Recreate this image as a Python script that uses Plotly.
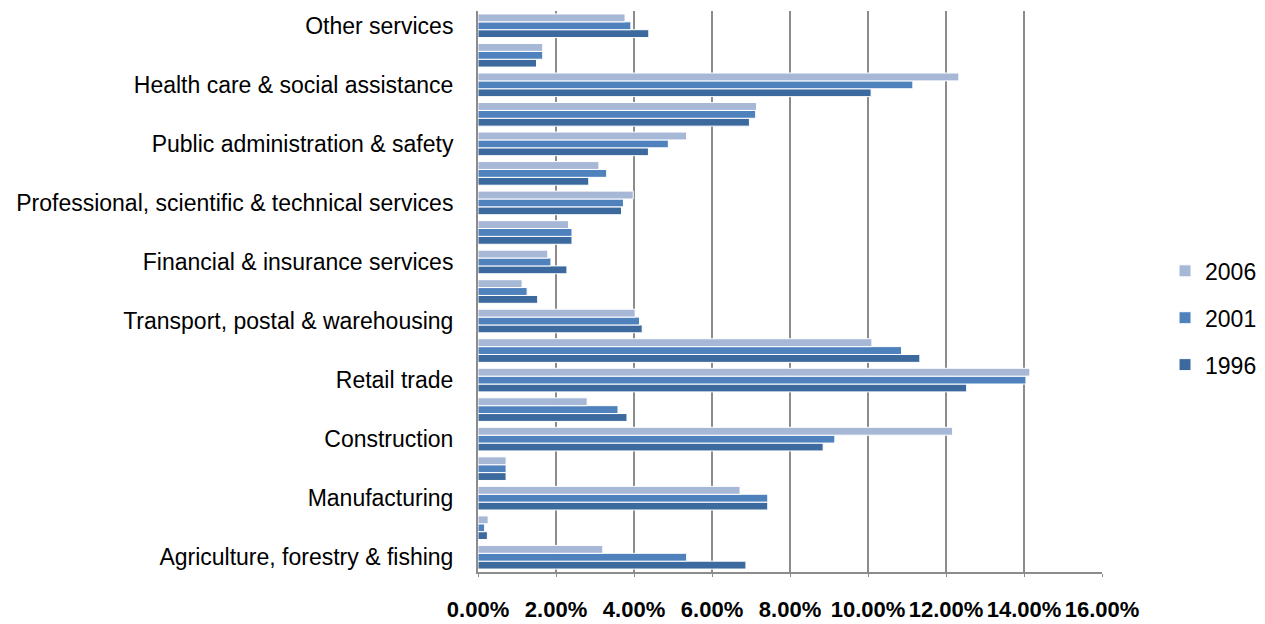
import plotly.graph_objects as go

categories = [
    "Agriculture, forestry & fishing",
    "Mining",
    "Manufacturing",
    "Electricity, gas & water",
    "Construction",
    "Wholesale trade",
    "Retail trade",
    "Accommodation, cafes & restaurants",
    "Transport, postal & warehousing",
    "Information media & telecommunications",
    "Financial & insurance services",
    "Rental, hiring & real estate services",
    "Professional, scientific & technical services",
    "Administrative & support services",
    "Public administration & safety",
    "Education & training",
    "Health care & social assistance",
    "Arts & recreation services",
    "Other services",
]

# shares of employment (fractions)
y1996 = [0.0687, 0.0024, 0.0743, 0.0072, 0.0885, 0.0382, 0.1253, 0.1133, 0.0421, 0.0153,
         0.0228, 0.0241, 0.0368, 0.0284, 0.0437, 0.0696, 0.1008, 0.0150, 0.0438]
y2001 = [0.0535, 0.0017, 0.0743, 0.0072, 0.0915, 0.0359, 0.1405, 0.1086, 0.0414, 0.0126,
         0.0187, 0.0241, 0.0373, 0.0330, 0.0488, 0.0712, 0.1115, 0.0166, 0.0392]
y2006 = [0.0320, 0.0026, 0.0672, 0.0072, 0.1217, 0.0280, 0.1415, 0.1010, 0.0403, 0.0113,
         0.0179, 0.0232, 0.0398, 0.0310, 0.0535, 0.0714, 0.1233, 0.0166, 0.0377]

labelled = categories[0::2]
x_ticks = [0, 0.02, 0.04, 0.06, 0.08, 0.10, 0.12, 0.14, 0.16]

series = [
    ("1996", y1996, "#3D6A9E", 3),
    ("2001", y2001, "#4F81BD", 2),
    ("2006", y2006, "#A7B8D7", 1),
]

fig = go.Figure()
for name, vals, col, rank in series:
    fig.add_trace(go.Bar(
        y=categories, x=vals, name=name, orientation="h",
        marker=dict(color=col, line=dict(color="white", width=1)),
        legendrank=rank, legendgroup=name,
    ))

# page body has an 8px margin, so the figure is sized/offset to compensate
fig.update_layout(
    width=1257, height=616,
    margin=dict(l=470, r=163, t=3, b=52, autoexpand=False),
    paper_bgcolor="white", plot_bgcolor="white",
    barmode="group", bargap=0.2, bargroupgap=0.0,
    font=dict(family="Liberation Sans", color="#000000"),
    legend=dict(x=1.101, xanchor="left", y=0.453, yanchor="middle",
                font=dict(size=23, color="#000"), tracegroupgap=14,
                itemwidth=30),
    showlegend=True,
)
fig.update_xaxes(
    range=[0, 0.16], tickvals=x_ticks, tickformat=".2%",
    showgrid=True, gridcolor="#8C8C8C", gridwidth=1.5,
    showline=True, linecolor="#8C8C8C", linewidth=2,
    ticks="outside", tickcolor="#8C8C8C", ticklen=3,
    ticklabelstandoff=14, tickangle=0, automargin=False,
    tickfont=dict(size=22, family="Liberation Sans", color="#000", weight="bold"),
    zeroline=False,
)
fig.update_yaxes(
    categoryorder="array", categoryarray=categories,
    range=[-0.5, 18.5],
    tickmode="array", tickvals=labelled, ticktext=labelled,
    showline=True, linecolor="#8C8C8C", linewidth=2,
    ticks="", ticklabelstandoff=18, automargin=False,
    tickfont=dict(size=23, family="Liberation Sans", color="#000"),
    showgrid=False,
)

fig.write_html("out.html")
